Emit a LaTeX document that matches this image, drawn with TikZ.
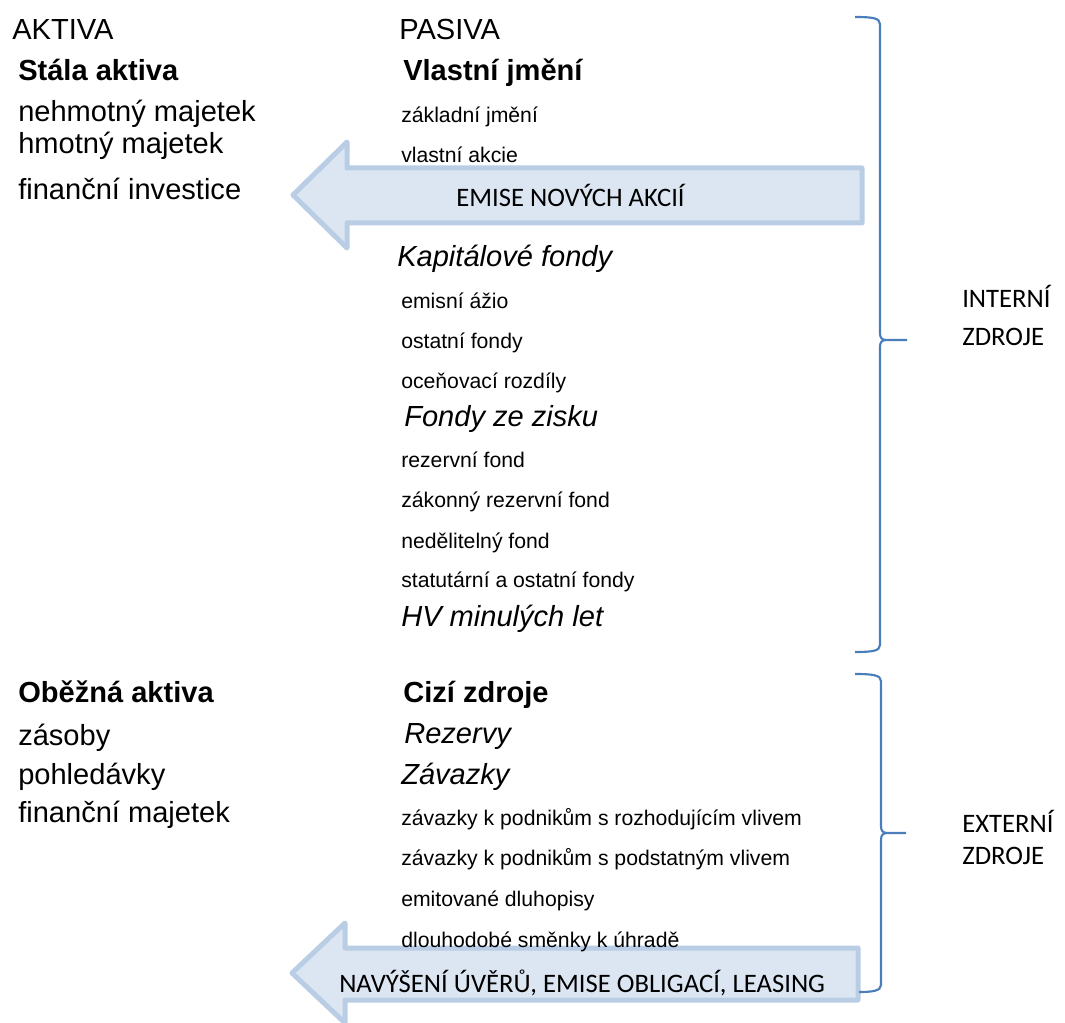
\documentclass[tikz,border=0pt]{standalone}
\usepackage{fontspec}
\setmainfont{Liberation Sans}
\newfontfamily\calfnt{Carlito}
\newcommand\arialbig{\fontsize{21.8}{25}\selectfont}
\newcommand\arialsmall{\fontsize{15.9}{19}\selectfont}
\newcommand\calsize{\calfnt\fontsize{20}{24}\selectfont}
\definecolor{arrfill}{HTML}{DCE6F2}
\definecolor{arrdraw}{HTML}{B9CDE5}
\definecolor{bracecol}{HTML}{4A7EBB}
\tikzset{
  big/.style={font=\arialbig, anchor=base west, inner sep=0pt},
  bigb/.style={font=\arialbig\bfseries, anchor=base west, inner sep=0pt},
  bigi/.style={font=\arialbig\itshape, anchor=base west, inner sep=0pt},
  small/.style={font=\arialsmall, anchor=base west, inner sep=0pt},
  cal/.style={font=\calsize, anchor=base west, inner sep=0pt},
  arrowshape/.style={fill=arrfill, draw=arrdraw, line width=3.75pt, line join=round},
  brace/.style={draw=bracecol, line width=1.6pt}
}
\begin{document}
\begin{tikzpicture}[x=0.75pt,y=-0.75pt]
\useasboundingbox (0,0) rectangle (1065,1023);
% arrows
\draw[arrowshape] (293,195) -- (347,142) -- (347,168) -- (862,168) -- (862,223) -- (347,223) -- (347,248) -- cycle;
\draw[arrowshape] (292,973) -- (345,923) -- (345,948) -- (858,948) -- (858,1000) -- (345,1000) -- (345,1023) -- cycle;
% braces
\draw[brace] (855,17) .. controls (872,17) and (880,18) .. (880,24) -- (880,333) .. controls (880,338) and (882,340) .. (886,340) -- (907,340);
\draw[brace] (886,340) .. controls (882,340) and (880,342) .. (880,347) -- (880,645) .. controls (880,651) and (872,652) .. (855,652);
\draw[brace] (855,674) .. controls (872,674) and (881,675) .. (881,681) -- (881,826) .. controls (881,831) and (883,833) .. (887,833) -- (906,833);
\draw[brace] (887,833) .. controls (883,833) and (881,835) .. (881,840) -- (881,985) .. controls (881,991) and (872,992) .. (859,992);
% left column
\node[big] (aktiva) at (12,40) {AKTIVA};
\node[bigb] (stala) at (18,81) {Stála aktiva};
\node[big] (nehm) at (18,122) {nehmotný majetek};
\node[big] (hmot) at (18,154) {hmotný majetek};
\node[big] (fininv) at (18,200) {finanční investice};
\node[bigb] (obez) at (18,702) {Oběžná aktiva};
\node[big] (zas) at (18,745) {zásoby};
\node[big] (pohl) at (18,784) {pohledávky};
\node[big] (finmaj) at (18,822) {finanční majetek};
% middle column
\node[big] (pasiva) at (399,40) {PASIVA};
\node[bigb] (vlj) at (403,81) {Vlastní jmění};
\node[small] (zakj) at (401,123) {základní jmění};
\node[small] (vlak) at (401,163) {vlastní akcie};
\node[cal] (emise) at (456,207) {EMISE NOVÝCH AKCIÍ};
\node[bigi] (kapf) at (397,267) {Kapitálové fondy};
\node[small] (ema) at (401,309) {emisní ážio};
\node[small] (ostf) at (401,349) {ostatní fondy};
\node[small] (ocen) at (401,389) {oceňovací rozdíly};
\node[bigi] (fzz) at (404,427) {Fondy ze zisku};
\node[small] (rezf) at (401,468) {rezervní fond};
\node[small] (zakrf) at (401,508) {zákonný rezervní fond};
\node[small] (nedf) at (401,549) {nedělitelný fond};
\node[small] (statf) at (401,588) {statutární a ostatní fondy};
\node[bigi] (hvml) at (401,627) {HV minulých let};
\node[bigb] (cizi) at (403,702) {Cizí zdroje};
\node[bigi] (rez) at (404,743) {Rezervy};
\node[bigi] (zav) at (401,784) {Závazky};
\node[small] (zav1) at (401,825) {závazky k podnikům s rozhodujícím vlivem};
\node[small] (zav2) at (401,865) {závazky k podnikům s podstatným vlivem};
\node[small] (emd) at (401,906) {emitované dluhopisy};
\node[small] (dlsm) at (401,947) {dlouhodobé směnky k úhradě};
\node[cal] (navys) at (339,992) {NAVÝŠENÍ ÚVĚRŮ, EMISE OBLIGACÍ, LEASING};
% right labels
\node[cal] (int) at (962,308) {INTERNÍ};
\node[cal] (zdr1) at (962,346) {ZDROJE};
\node[cal] (ext) at (962,832) {EXTERNÍ};
\node[cal] (zdr2) at (962,864) {ZDROJE};
\end{tikzpicture}
\end{document}
